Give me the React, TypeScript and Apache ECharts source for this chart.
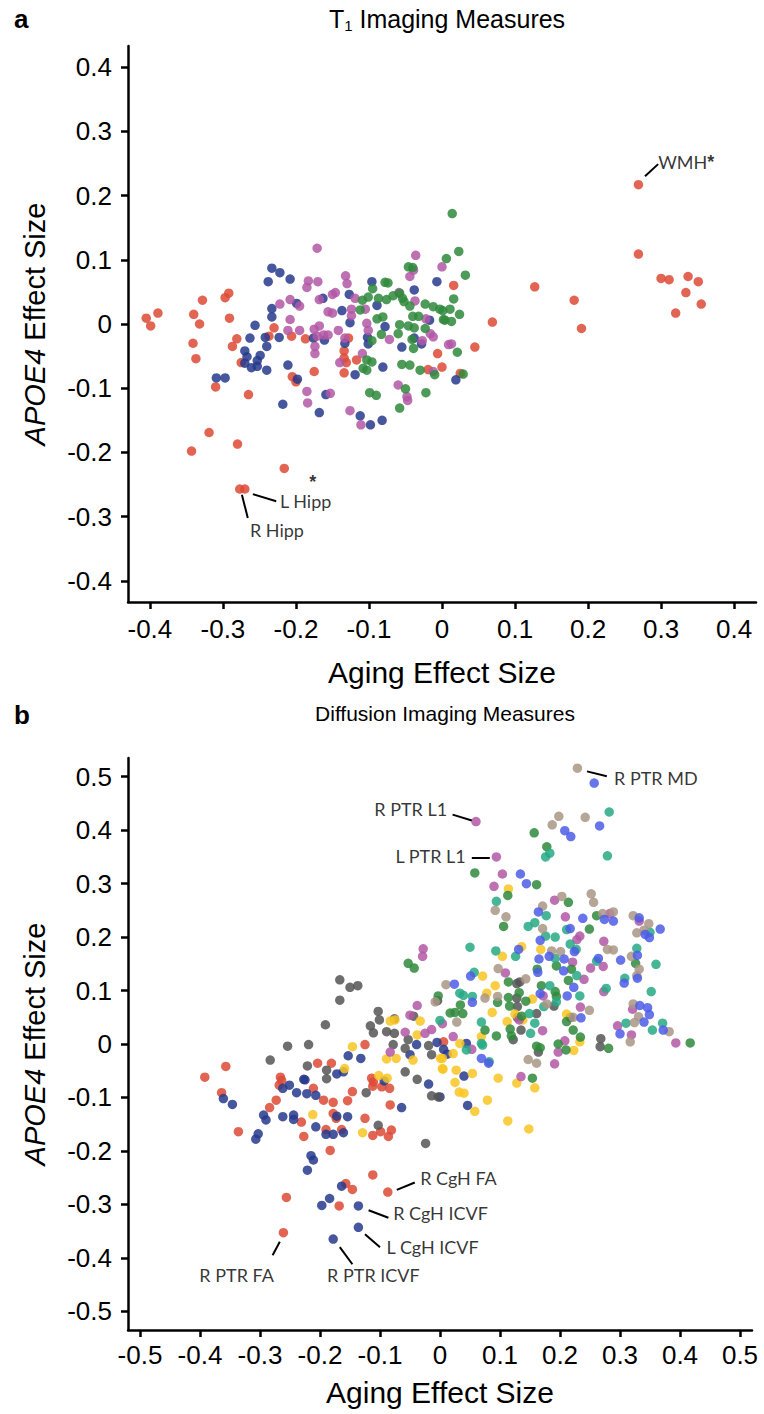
import React, { useEffect, useRef } from 'react';
import * as echarts from 'echarts';

// ---------- tick values ----------
const ticksA = [-0.4, -0.3, -0.2, -0.1, 0, 0.1, 0.2, 0.3, 0.4];
const ticksB = [-0.5, -0.4, -0.3, -0.2, -0.1, 0, 0.1, 0.2, 0.3, 0.4, 0.5];

// ---------- panel a: T1 imaging measures [aging, APOE4] ----------
const aRed: number[][] = [
  [-0.405, 0.009], [-0.399, -0.003], [-0.389, 0.017], [-0.340, 0.015], [-0.332, 0.000], [-0.328, 0.037],
  [-0.341, -0.030], [-0.337, -0.054], [-0.297, 0.041], [-0.292, 0.048], [-0.291, 0.009], [-0.281, -0.023],
  [-0.287, -0.035], [-0.275, -0.060], [-0.230, -0.006], [-0.237, -0.019], [-0.206, -0.019], [-0.187, -0.023],
  [-0.205, -0.082], [-0.200, -0.090], [-0.175, -0.074], [-0.310, -0.098], [-0.265, -0.110], [-0.128, -0.022],
  [-0.134, -0.042], [-0.134, -0.053], [-0.131, -0.060], [-0.134, -0.076], [-0.117, -0.056], [-0.006, -0.046],
  [0.000, -0.067], [0.016, 0.060], [-0.019, -0.071], [0.269, 0.217], [0.269, 0.109], [0.300, 0.071],
  [0.311, 0.069], [0.337, 0.074], [0.351, 0.066], [0.334, 0.049], [0.355, 0.031], [0.320, 0.017],
  [0.127, 0.058], [0.181, 0.037], [0.191, -0.007], [0.069, 0.003], [0.045, -0.036], [0.025, -0.077],
  [-0.319, -0.169], [-0.343, -0.198], [-0.280, -0.187], [-0.216, -0.225], [-0.277, -0.257], [-0.270, -0.257],
];
const aBlue: number[][] = [
  [-0.233, 0.087], [-0.222, 0.080], [-0.208, 0.070], [-0.238, 0.066], [-0.233, 0.024], [-0.233, 0.011],
  [-0.256, -0.002], [-0.263, -0.022], [-0.242, -0.021], [-0.223, -0.021], [-0.240, -0.035], [-0.270, -0.042],
  [-0.267, -0.051], [-0.249, -0.049], [-0.253, -0.057], [-0.270, -0.061], [-0.261, -0.068], [-0.253, -0.066],
  [-0.240, -0.072], [-0.211, -0.064], [-0.198, -0.086], [-0.309, -0.084], [-0.297, -0.084], [-0.199, 0.032],
  [-0.176, -0.022], [-0.161, -0.025], [-0.163, 0.040], [-0.127, 0.046], [-0.137, 0.021], [-0.126, 0.002],
  [-0.096, 0.066], [-0.089, 0.029], [-0.078, -0.004], [-0.102, -0.021], [-0.101, -0.031], [-0.133, -0.030],
  [-0.119, -0.079], [-0.081, -0.067], [-0.055, -0.036], [-0.038, 0.053], [-0.038, -0.022], [-0.028, -0.031],
  [-0.007, 0.066], [-0.017, 0.006], [-0.159, -0.110], [0.019, -0.087], [-0.218, -0.125], [-0.168, -0.138],
  [-0.112, -0.143], [-0.098, -0.157], [-0.082, -0.150],
];
const aMagenta: number[][] = [
  [-0.171, 0.118], [-0.183, 0.067], [-0.185, 0.057], [-0.170, 0.066], [-0.208, 0.038], [-0.222, 0.031],
  [-0.195, 0.028], [-0.168, 0.038], [-0.150, 0.046], [-0.146, 0.049], [-0.132, 0.075], [-0.130, 0.063],
  [-0.156, 0.019], [-0.150, 0.017], [-0.208, 0.007], [-0.211, -0.010], [-0.195, -0.010], [-0.175, -0.008],
  [-0.168, -0.003], [-0.162, -0.017], [-0.171, -0.019], [-0.156, -0.017], [-0.174, -0.046], [-0.174, -0.035],
  [-0.142, -0.010], [-0.133, -0.022], [-0.140, -0.060], [-0.185, -0.105], [-0.153, -0.108], [-0.119, 0.040],
  [-0.124, 0.023], [-0.124, 0.013], [-0.105, 0.023], [-0.103, 0.001], [-0.101, -0.010], [-0.109, -0.046],
  [-0.072, -0.024], [-0.059, 0.049], [-0.044, 0.074], [-0.039, 0.084], [-0.036, 0.107], [-0.037, 0.036],
  [-0.027, -0.026], [-0.022, 0.008], [-0.016, -0.015], [-0.012, -0.074], [0.000, 0.089], [0.009, -0.032],
  [-0.060, -0.095], [-0.048, -0.113], [0.013, -0.031], [-0.012, -0.020], [-0.184, -0.123], [-0.126, -0.135],
  [-0.111, -0.157], [-0.047, -0.119],
];
const aGreen: number[][] = [
  [0.014, 0.172], [0.006, 0.102], [-0.046, 0.089], [-0.040, 0.088], [-0.078, 0.065], [-0.074, 0.064],
  [-0.095, 0.055], [-0.101, 0.042], [-0.109, 0.037], [-0.112, 0.022], [-0.087, 0.040], [-0.076, 0.038],
  [-0.067, 0.044], [-0.058, 0.048], [-0.054, 0.040], [-0.052, 0.035], [-0.044, 0.028], [-0.040, 0.012],
  [-0.032, 0.012], [-0.023, 0.031], [-0.012, 0.027], [-0.003, 0.023], [0.004, 0.006], [-0.089, 0.008],
  [-0.081, 0.011], [-0.058, -0.001], [-0.060, -0.015], [-0.046, -0.003], [-0.038, -0.006], [-0.023, -0.007],
  [-0.083, -0.016], [-0.096, -0.026], [-0.039, -0.038], [-0.041, -0.024], [-0.103, -0.056], [-0.096, -0.059],
  [-0.108, -0.069], [-0.103, -0.072], [-0.055, -0.063], [-0.044, -0.064], [-0.030, -0.072], [-0.022, -0.107],
  [-0.099, -0.107], [-0.090, -0.111], [-0.050, -0.101], [-0.010, -0.079], [0.023, 0.113], [0.032, 0.076],
  [0.016, 0.039], [0.011, 0.023], [0.001, 0.021], [0.024, 0.015], [0.002, 0.007], [0.013, 0.004],
  [0.021, -0.044], [0.029, -0.078], [-0.058, -0.131],
];

// ---------- panel b: diffusion imaging measures [aging, APOE4] ----------
const bRed: number[][] = [
  [-0.392, -0.062], [-0.357, -0.042], [-0.266, -0.062], [-0.204, -0.036], [-0.181, -0.036], [-0.125, -0.001],
  [-0.114, -0.064], [-0.364, -0.091], [-0.336, -0.164], [-0.284, -0.119], [-0.273, -0.105], [-0.268, -0.077],
  [-0.264, -0.068], [-0.211, -0.083], [-0.194, -0.105], [-0.178, -0.109], [-0.231, -0.146], [-0.227, -0.173],
  [-0.190, -0.160], [-0.164, -0.160], [-0.183, -0.199], [-0.178, -0.130], [-0.173, -0.139], [-0.154, -0.106],
  [-0.146, -0.089], [-0.125, -0.139], [-0.112, -0.171], [-0.099, -0.164], [-0.086, -0.173], [-0.081, -0.161],
  [-0.083, -0.114], [-0.112, -0.079], [-0.111, -0.071], [-0.097, -0.080], [-0.084, -0.083], [-0.112, -0.245],
  [-0.087, -0.277], [-0.157, -0.261], [-0.146, -0.272], [-0.256, -0.287], [-0.168, -0.303], [-0.261, -0.353],
  [0.006, 0.004],
];
const bNavy: number[][] = [
  [-0.227, -0.066], [-0.172, -0.056], [-0.161, -0.052], [-0.153, -0.022], [-0.132, -0.027], [-0.361, -0.102],
  [-0.346, -0.113], [-0.303, -0.168], [-0.307, -0.178], [-0.294, -0.133], [-0.290, -0.142], [-0.262, -0.136],
  [-0.262, -0.083], [-0.251, -0.077], [-0.239, -0.091], [-0.222, -0.093], [-0.207, -0.096], [-0.225, -0.067],
  [-0.244, -0.133], [-0.244, -0.141], [-0.207, -0.155], [-0.190, -0.169], [-0.178, -0.169], [-0.161, -0.166],
  [-0.215, -0.209], [-0.211, -0.217], [-0.221, -0.236], [-0.172, -0.135], [-0.154, -0.136], [-0.064, -0.119],
  [-0.093, -0.069], [-0.019, -0.075], [-0.164, -0.266], [-0.184, -0.289], [-0.197, -0.302], [-0.136, -0.303],
  [-0.136, -0.343], [-0.178, -0.365], [-0.039, -0.001], [-0.005, 0.003], [-0.050, -0.020], [0.006, -0.010],
  [0.012, -0.019], [0.044, 0.001], [0.040, -0.060], [0.046, -0.115], [0.000, -0.099],
];
const bGrey: number[][] = [
  [-0.167, 0.120], [-0.150, 0.106], [-0.137, 0.109], [-0.167, 0.082], [-0.004, 0.081], [-0.103, 0.061],
  [-0.101, 0.045], [-0.116, 0.034], [-0.111, 0.021], [-0.089, 0.023], [-0.076, 0.047], [-0.076, 0.020],
  [-0.044, 0.052], [-0.053, 0.008], [-0.058, -0.008], [-0.078, -0.001], [-0.019, -0.003], [-0.014, -0.020],
  [-0.191, 0.036], [-0.254, -0.004], [-0.219, -0.001], [-0.283, -0.030], [-0.221, -0.041], [-0.189, -0.049],
  [-0.058, -0.052], [-0.038, -0.066], [-0.189, -0.065], [-0.123, -0.091], [-0.014, -0.097], [-0.003, -0.099],
  [-0.103, -0.152], [-0.024, -0.186], [0.128, 0.113], [0.133, 0.116], [0.128, 0.086], [0.129, 0.070],
  [0.190, 0.071], [0.161, 0.057], [0.129, 0.050], [0.122, 0.008], [0.135, 0.026], [0.217, 0.050],
  [0.268, 0.010], [0.267, -0.005], [0.164, -0.015],
];
const bYellow: number[][] = [
  [-0.083, 0.043], [-0.075, 0.045], [-0.033, 0.043], [-0.038, 0.017], [-0.089, -0.028], [-0.073, -0.027],
  [-0.045, -0.030], [0.001, -0.027], [0.005, -0.047], [-0.146, -0.005], [-0.159, -0.046], [-0.102, -0.059],
  [-0.088, -0.064], [-0.212, -0.132], [-0.129, -0.166], [0.114, 0.290], [0.104, 0.164], [0.136, 0.182],
  [0.168, 0.177], [0.071, 0.127], [0.092, 0.109], [0.078, 0.095], [0.154, 0.084], [0.125, 0.056],
  [0.138, 0.045], [0.112, 0.042], [0.087, 0.059], [0.069, 0.014], [0.211, 0.056], [0.233, 0.004],
  [0.223, -0.012], [0.033, 0.001], [0.022, -0.018], [0.027, -0.049], [0.054, -0.055], [0.097, -0.064],
  [0.025, -0.072], [0.032, -0.090], [0.040, -0.092], [0.058, -0.126], [0.079, -0.105], [0.128, -0.073],
  [0.158, -0.082], [0.113, -0.144], [0.148, -0.159], [0.004, -0.046], [0.004, -0.027],
];
const bMagenta: number[][] = [
  [0.060, 0.416], [0.094, 0.350], [0.104, 0.318], [0.090, 0.295], [0.191, 0.269], [0.209, 0.238],
  [0.283, 0.244], [-0.028, 0.178], [-0.029, 0.164], [-0.038, 0.072], [0.004, 0.038], [-0.050, 0.054],
  [-0.058, 0.022], [-0.025, 0.020], [-0.014, 0.027], [-0.083, -0.015], [0.233, 0.202], [0.228, 0.195],
  [0.273, 0.192], [0.272, 0.145], [0.251, 0.142], [0.240, 0.121], [0.221, 0.153], [0.109, 0.133],
  [0.172, 0.090], [0.132, 0.045], [0.171, 0.025], [0.234, 0.069], [0.208, 0.006], [0.197, -0.015],
  [0.191, -0.037], [0.321, 0.065], [0.296, 0.034], [0.319, 0.017], [0.393, 0.002], [0.273, 0.098],
  [0.022, 0.014], [0.053, -0.010], [0.135, -0.061], [0.332, 0.230],
];
const bGreen: number[][] = [
  [0.157, 0.395], [0.178, 0.369], [0.058, 0.320], [0.161, 0.298], [0.113, 0.278], [0.214, 0.265],
  [0.261, 0.240], [0.106, 0.220], [0.249, 0.215], [-0.053, 0.151], [-0.043, 0.142], [-0.003, 0.090],
  [0.017, 0.058], [0.025, 0.059], [0.038, 0.057], [0.326, 0.151], [0.194, 0.146], [0.219, 0.140],
  [0.214, 0.119], [0.162, 0.140], [0.114, 0.116], [0.132, 0.096], [0.034, 0.073], [0.114, 0.087],
  [0.143, 0.080], [0.169, 0.109], [0.192, 0.098], [0.194, 0.089], [0.136, 0.052], [0.096, 0.078],
  [0.116, 0.071], [0.075, 0.026], [0.094, 0.015], [0.117, 0.028], [0.119, 0.015], [0.211, 0.042],
  [0.222, 0.026], [0.234, 0.013], [0.161, -0.004], [0.167, -0.007], [0.210, -0.011], [0.281, -0.008],
  [0.417, 0.002], [0.154, -0.064], [0.197, 0.000],
];
const bTeal: number[][] = [
  [0.282, 0.434], [0.183, 0.357], [0.176, 0.350], [0.279, 0.352], [0.094, 0.267], [0.177, 0.240],
  [0.158, 0.227], [0.147, 0.220], [0.211, 0.214], [0.176, 0.202], [0.192, 0.200], [0.217, 0.187],
  [0.227, 0.177], [0.350, 0.209], [0.328, 0.179], [0.360, 0.149], [0.308, 0.123], [0.261, 0.155],
  [0.050, 0.181], [0.093, 0.174], [0.126, 0.164], [0.192, 0.160], [0.228, 0.128], [0.233, 0.090],
  [0.057, 0.134], [0.033, 0.095], [0.039, 0.091], [0.054, 0.089], [0.183, 0.109], [0.173, 0.070],
  [0.194, 0.079], [0.149, 0.057], [0.069, 0.041], [0.071, -0.002], [0.151, 0.020], [0.158, 0.039],
  [0.310, 0.039], [0.354, 0.026], [0.371, 0.039], [0.352, 0.098], [0.277, 0.104], [0.000, 0.044],
  [0.044, -0.011], [0.082, -0.033], [0.069, 0.001],
];
const bTan: number[][] = [
  [0.229, 0.516], [0.198, 0.426], [0.187, 0.410], [0.242, 0.424], [0.203, 0.276], [0.252, 0.281],
  [0.256, 0.265], [0.171, 0.258], [0.092, 0.250], [0.110, 0.238], [0.271, 0.244], [0.289, 0.247],
  [0.322, 0.240], [0.348, 0.225], [0.340, 0.213], [0.328, 0.208], [0.171, 0.216], [0.279, 0.177],
  [0.289, 0.176], [0.319, 0.164], [0.332, 0.140], [0.328, 0.128], [0.186, 0.174], [0.201, 0.173],
  [0.097, 0.141], [0.010, 0.111], [0.143, 0.122], [0.096, 0.089], [0.075, 0.086], [0.178, 0.075],
  [0.222, 0.050], [0.249, 0.063], [0.322, 0.075], [0.331, 0.051], [0.324, 0.040], [0.317, 0.004],
  [0.382, 0.023], [0.147, -0.029], [0.161, -0.036], [-0.008, 0.079], [0.028, 0.041],
];
const bBlue: number[][] = [
  [0.257, 0.488], [0.266, 0.408], [0.208, 0.399], [0.218, 0.388], [0.134, 0.318], [0.144, 0.300],
  [0.164, 0.247], [0.238, 0.235], [0.332, 0.236], [0.274, 0.233], [0.289, 0.230], [0.367, 0.215],
  [0.342, 0.205], [0.349, 0.199], [0.217, 0.216], [0.224, 0.173], [0.329, 0.166], [0.329, 0.123],
  [0.307, 0.114], [0.301, 0.157], [0.264, 0.160], [0.167, 0.194], [0.131, 0.177], [0.165, 0.159],
  [0.182, 0.164], [0.207, 0.159], [0.206, 0.137], [0.223, 0.106], [0.212, 0.090], [0.163, 0.134],
  [0.051, 0.127], [0.024, 0.112], [0.054, 0.078], [0.167, 0.094], [0.235, 0.049], [0.333, 0.072],
  [0.346, 0.068], [0.349, 0.055], [0.340, 0.041], [0.300, 0.019], [0.372, 0.026], [0.069, -0.027],
  [0.081, -0.036],
];

// ---------- annotations ----------
const annA = [
  { text: '{n|WMH}{a|*}', pos: [0.296, 0.253], align: 'left' },
  { text: '{n|L Hipp}', pos: [-0.222, -0.276], align: 'left' },
  { text: '{a|*}', pos: [-0.177, -0.2465], align: 'center' },
  { text: '{n|R Hipp}', pos: [-0.263, -0.321], align: 'left' },
];
const leadersA = [
  [[0.278, 0.230], [0.296, 0.249]],
  [[-0.259, -0.265], [-0.227, -0.276]],
  [[-0.274, -0.266], [-0.266, -0.302]],
];
const annB = [
  { text: '{n|R PTR MD}', pos: [0.290, 0.498], align: 'left' },
  { text: '{n|R PTR L1}', pos: [0.012, 0.440], align: 'right' },
  { text: '{n|L PTR L1}', pos: [0.043, 0.352], align: 'right' },
  { text: '{n|R CgH FA}', pos: [-0.033, -0.251], align: 'left' },
  { text: '{n|R CgH ICVF}', pos: [-0.078, -0.316], align: 'left' },
  { text: '{n|L CgH ICVF}', pos: [-0.089, -0.380], align: 'left' },
  { text: '{n|R PTR ICVF}', pos: [-0.111, -0.433], align: 'center' },
  { text: '{n|R PTR FA}', pos: [-0.339, -0.433], align: 'center' },
];
const leadersB = [
  [[0.245, 0.510], [0.278, 0.501]],
  [[0.021, 0.429], [0.053, 0.418]],
  [[0.053, 0.348], [0.083, 0.348]],
  [[-0.072, -0.273], [-0.042, -0.259]],
  [[-0.119, -0.311], [-0.086, -0.325]],
  [[-0.125, -0.356], [-0.100, -0.380]],
  [[-0.167, -0.380], [-0.146, -0.412]],
  [[-0.267, -0.370], [-0.279, -0.395]],
];

const C = {
  red: '#dd4a36', navy: '#273a8c', magenta: '#b257a5', green: '#2f8a3c', grey: '#555555',
  yellow: '#f9c623', teal: '#27a985', tan: '#a99785', blue: '#4c5ce6',
};

const AX_FONT = "'Liberation Sans', Arial, sans-serif";
const TITLE_FONT = "'Liberation Sans', Arial, sans-serif";
const ANN_FONT = "Lato, 'Open Sans', sans-serif";

const fmt = (v: number) => (Math.abs(v) < 1e-9 ? '0' : v.toFixed(1));

function xAxis(gridIndex: number, lim: number, ticks: number[], nameGap: number, margin: number) {
  return {
    type: 'value', gridIndex, min: -lim, max: lim,
    axisLine: { show: true, onZero: false, lineStyle: { color: '#000', width: 2.5 } },
    axisTick: { show: true, length: 7, customValues: ticks, lineStyle: { color: '#000', width: 2.5 } },
    axisLabel: { customValues: ticks, formatter: fmt, color: '#000', fontSize: 26, fontFamily: AX_FONT, margin },
    splitLine: { show: false },
    name: 'Aging Effect Size', nameLocation: 'middle', nameGap,
    nameTextStyle: { color: '#000', fontSize: 30, fontFamily: AX_FONT },
  };
}
function yAxis(gridIndex: number, lim: number, ticks: number[]) {
  return {
    type: 'value', gridIndex, min: -lim, max: lim,
    axisLine: { show: true, onZero: false, lineStyle: { color: '#000', width: 2.5 } },
    axisTick: { show: true, length: 7, customValues: ticks, lineStyle: { color: '#000', width: 2.5 } },
    axisLabel: { customValues: ticks, formatter: fmt, color: '#000', fontSize: 26, fontFamily: AX_FONT, margin: 16 },
    splitLine: { show: false },
    name: '{i|APOE4}{n| Effect Size}', nameLocation: 'middle', nameGap: 79, nameRotate: 90,
    nameTextStyle: {
      color: '#000', fontSize: 29, fontFamily: AX_FONT,
      rich: {
        i: { fontStyle: 'italic', fontSize: 29, fontFamily: AX_FONT, color: '#000' },
        n: { fontSize: 29, fontFamily: AX_FONT, color: '#000' },
      },
    },
  };
}

function scatter(data: number[][], color: string, idx: number) {
  return {
    type: 'scatter', xAxisIndex: idx, yAxisIndex: idx, data,
    symbolSize: 9.5, itemStyle: { color, opacity: 0.85 }, silent: true,
  };
}
const annRich = {
  n: { color: '#000', fontSize: 18, lineHeight: 18, fontFamily: ANN_FONT },
  a: { color: '#000', fontSize: 18, lineHeight: 10, fontWeight: 'bold', fontFamily: TITLE_FONT },
};
function annSeries(list: any[], idx: number) {
  return {
    type: 'scatter', xAxisIndex: idx, yAxisIndex: idx, symbolSize: 0, silent: true, z: 5,
    data: list.map((a) => ({
      value: a.pos,
      label: {
        show: true, position: 'inside', formatter: a.text, align: a.align, verticalAlign: 'middle',
        color: '#000', fontSize: 18, fontFamily: ANN_FONT, rich: annRich,
      },
    })),
  };
}
function leaderSeries(list: number[][][], idx: number) {
  return {
    type: 'lines', coordinateSystem: 'cartesian2d', xAxisIndex: idx, yAxisIndex: idx, silent: true, z: 5,
    lineStyle: { color: '#000', width: 2, opacity: 1 },
    data: list.map((c) => ({ coords: c })),
  };
}

export default function App() {
  const ref = useRef<HTMLDivElement>(null);
  useEffect(() => {
    document.body.style.margin = '0';
    const chart = echarts.init(ref.current!, null, { renderer: 'svg' });
    const option: any = {
      animation: false,
      backgroundColor: '#fff',
      title: [
        { text: 'a', left: 9, top: 1, textStyle: { fontSize: 26, fontWeight: 'bold', fontFamily: TITLE_FONT, color: '#000' } },
        {
          text: '{n|T}{s|1}{n| Imaging Measures}', left: 442, top: 0, textAlign: 'center',
          textStyle: {
            fontFamily: TITLE_FONT, color: '#000', fontWeight: 'normal',
            rich: {
              n: { fontSize: 25, fontWeight: 'normal', fontFamily: TITLE_FONT, color: '#000', lineHeight: 28 },
              s: { fontSize: 15, fontWeight: 'normal', fontFamily: TITLE_FONT, color: '#000', verticalAlign: 'bottom', lineHeight: 28, padding: [9, 0, 0, 0] },
            },
          },
        },
        { text: 'b', left: 9, top: 697, textStyle: { fontSize: 26, fontWeight: 'bold', fontFamily: TITLE_FONT, color: '#000' } },
        {
          text: 'Diffusion Imaging Measures', left: 440, top: 698, textAlign: 'center',
          textStyle: { fontSize: 21, fontWeight: 'normal', fontFamily: TITLE_FONT, color: '#000' },
        },
      ],
      grid: [
        { left: 128, top: 46, width: 628, height: 556 },
        { left: 128, top: 758, width: 624, height: 572 },
      ],
      xAxis: [xAxis(0, 0.43, ticksA, 55, 14), xAxis(1, 0.52, ticksB, 47, 12)],
      yAxis: [yAxis(0, 0.433, ticksA), yAxis(1, 0.535, ticksB)],
      series: [
        scatter(aRed, C.red, 0), scatter(aBlue, C.navy, 0), scatter(aMagenta, C.magenta, 0), scatter(aGreen, C.green, 0),
        leaderSeries(leadersA, 0), annSeries(annA, 0),
        scatter(bRed, C.red, 1), scatter(bNavy, C.navy, 1), scatter(bGrey, C.grey, 1), scatter(bYellow, C.yellow, 1),
        scatter(bMagenta, C.magenta, 1), scatter(bGreen, C.green, 1), scatter(bTeal, C.teal, 1), scatter(bTan, C.tan, 1),
        scatter(bBlue, C.blue, 1),
        leaderSeries(leadersB, 1), annSeries(annB, 1),
      ],
    };
    chart.setOption(option);
    return () => chart.dispose();
  }, []);
  return <div ref={ref} style={{ width: 764, height: 1414 }} />;
}
